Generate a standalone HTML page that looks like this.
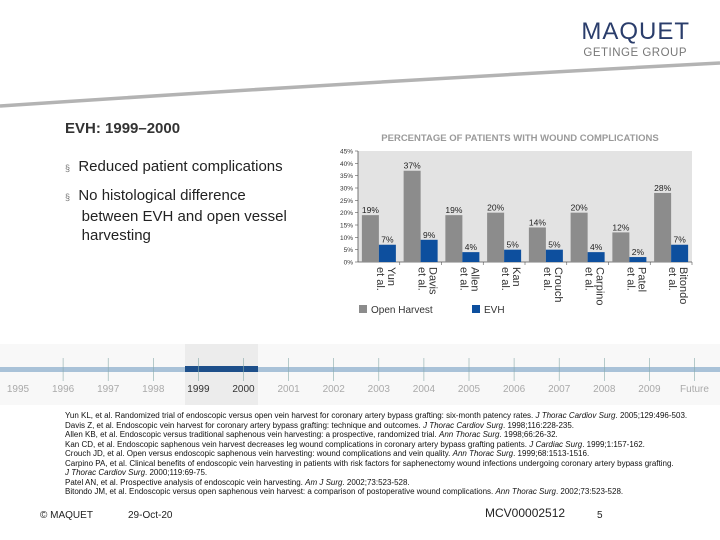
<!DOCTYPE html>
<html><head><meta charset="utf-8"><style>
body{margin:0;width:720px;height:540px;overflow:hidden;background:#fff;font-family:"Liberation Sans",Arial,sans-serif;position:relative}
.abs{position:absolute;white-space:nowrap}
.refs{position:absolute;left:65px;top:411px;font-size:8px;line-height:9.5px;color:#111;letter-spacing:0px;white-space:nowrap}
.refs i{font-style:italic}
</style></head><body>
<svg width="720" height="540" style="position:absolute;left:0;top:0">
  <path d="M0,106 Q360,82 720,63" stroke="#b3b3b3" stroke-width="3.5" fill="none"/>
  <rect x="0" y="344" width="720" height="61" fill="#f8f8f8"/>
  <rect x="185" y="344" width="73" height="61" fill="#ececec"/>
  <rect x="0" y="367" width="720" height="5" fill="#a9c2d8"/>
  <rect x="185" y="366" width="73" height="6" fill="#1d4f8a"/>
  <g id="tl"></g>
  <g id="chart"></g>
</svg>
<div class="abs" style="right:30px;top:18px;font-size:24px;color:#2a3d6b;letter-spacing:1px">MAQUET</div>
<div class="abs" style="right:33px;top:47px;font-size:11.5px;color:#777;letter-spacing:0.5px">GETINGE GROUP</div>
<div class="abs" style="left:65px;top:120px;font-size:15px;font-weight:bold;color:#333">EVH: 1999–2000</div>
<div class="abs" style="left:65px;top:157px;font-size:15px;color:#222;line-height:19px"><span style="font-size:9px;color:#777">§</span>&nbsp; Reduced patient complications</div>
<div class="abs" style="left:65px;top:186px;font-size:15px;color:#222;line-height:19px"><span style="font-size:9px;color:#777">§</span>&nbsp; No histological difference<br>&nbsp;&nbsp;&nbsp;&nbsp;between EVH and open vessel<br>&nbsp;&nbsp;&nbsp;&nbsp;harvesting</div>
<div class="refs">
Yun KL, et al. Randomized trial of endoscopic versus open vein harvest for coronary artery bypass grafting: six-month patency rates. <i>J Thorac Cardiov Surg</i>. 2005;129:496-503.<br>
Davis Z, et al. Endoscopic vein harvest for coronary artery bypass grafting: technique and outcomes. <i>J Thorac Cardiov Surg</i>. 1998;116:228-235.<br>
Allen KB, et al. Endoscopic versus traditional saphenous vein harvesting: a prospective, randomized trial. <i>Ann Thorac Surg</i>. 1998;66:26-32.<br>
Kan CD, et al. Endoscopic saphenous vein harvest decreases leg wound complications in coronary artery bypass grafting patients. <i>J Cardiac Surg</i>. 1999;1:157-162.<br>
Crouch JD, et al. Open versus endoscopic saphenous vein harvesting: wound complications and vein quality. <i>Ann Thorac Surg</i>. 1999;68:1513-1516.<br>
Carpino PA, et al. Clinical benefits of endoscopic vein harvesting in patients with risk factors for saphenectomy wound infections undergoing coronary artery bypass grafting.<br>
<i>J Thorac Cardiov Surg</i>. 2000;119:69-75.<br>
Patel AN, et al. Prospective analysis of endoscopic vein harvesting. <i>Am J Surg</i>. 2002;73:523-528.<br>
Bitondo JM, et al. Endoscopic versus open saphenous vein harvest: a comparison of postoperative wound complications. <i>Ann Thorac Surg</i>. 2002;73:523-528.
</div>
<div class="abs" style="left:40px;top:510px;font-size:10px;color:#222">© MAQUET</div>
<div class="abs" style="left:128px;top:510px;font-size:10px;color:#222">29-Oct-20</div>
<div class="abs" style="left:485px;top:506px;font-size:12px;color:#222">MCV00002512</div>
<div class="abs" style="left:597px;top:510px;font-size:10px;color:#222">5</div>
<script>
const categories=[["Yun","et al."],["Davis","et al."],["Allen","et al."],["Kan","et al."],["Crouch","et al."],["Carpino","et al."],["Patel","et al."],["Bitondo","et al."]];
const openHarvest=[19,37,19,20,14,20,12,28];
const evh=[7,9,4,5,5,4,2,7];
const yTicks=[0,5,10,15,20,25,30,35,40,45];
const years=["1995","1996","1997","1998","1999","2000","2001","2002","2003","2004","2005","2006","2007","2008","2009","Future"];
const NS="http://www.w3.org/2000/svg";
function mk(tag,attrs,parent,text){const e=document.createElementNS(NS,tag);for(const k in attrs)e.setAttribute(k,attrs[k]);if(text!==undefined)e.textContent=text;parent.appendChild(e);return e;}
const tl=document.getElementById('tl');
years.forEach((y,i)=>{
  const x=18+i*45.1;
  if(i>0){const t=mk('line',{x1:x,x2:x,y1:358,y2:381,stroke:'#8aa',"stroke-width":0.6},tl);
  
  }
  const sel=(y==="1999"||y==="2000");
  const tx=mk('text',{x:x,y:392,"text-anchor":"middle","font-size":10,fill:sel?'#333':'#aaa'},tl,y);
  
  
});
const g=document.getElementById('chart');
const L=358,R=692,T=151,B=262,yMax=45;
const yS=v=>B-(v/yMax)*(B-T);
const bw=(R-L)/categories.length;
const title=mk('text',{x:520,y:141,"text-anchor":"middle","font-size":9.5,"font-weight":"bold",fill:'#9a9a9a'},g,"PERCENTAGE OF PATIENTS WITH WOUND COMPLICATIONS");


const bg=mk('rect',{x:L,y:T,width:R-L,height:B-T,fill:'#e3e3e3'},g);


mk('line',{x1:L,x2:L,y1:T,y2:B,stroke:'#555',"stroke-width":0.8},g);
mk('line',{x1:L,x2:R,y1:B,y2:B,stroke:'#555',"stroke-width":0.8},g);
yTicks.forEach(v=>{
  const y=yS(v);
  mk('line',{x1:L-3,x2:L,y1:y,y2:y,stroke:'#555',"stroke-width":0.6},g);
  const t=mk('text',{x:L-5,y:y+2.5,"text-anchor":"end","font-size":6.5,fill:'#333'},g,v+"%");
  
  
});
categories.forEach((c,i)=>{
  const cx=L+bw*(i+0.5);
  const o=openHarvest[i],e=evh[i];
  const b1=mk('rect',{x:cx-17,y:yS(o),width:17,height:B-yS(o),fill:'#8c8c8c'},g);
  
  
  const b2=mk('rect',{x:cx,y:yS(e),width:17,height:B-yS(e),fill:'#0d4f9e'},g);
  
  
  const l1=mk('text',{x:cx-8.5,y:yS(o)-2,"text-anchor":"middle","font-size":8.5,fill:'#222'},g,o+"%");
  
  
  const l2=mk('text',{x:cx+8.5,y:yS(e)-2,"text-anchor":"middle","font-size":8.5,fill:'#222'},g,e+"%");
  
  
  mk('line',{x1:cx+bw/2,x2:cx+bw/2,y1:B,y2:B+3,stroke:'#555',"stroke-width":0.6},g);
  const ct=mk('text',{transform:`translate(${cx+9},${B+5}) rotate(90)`,"font-size":11,fill:'#333'},g);
  
  
  mk('tspan',{x:0,y:0},ct,c[0]);
  mk('tspan',{x:0,y:11},ct,c[1]);
});
const lg1=mk('rect',{x:359,y:305,width:8,height:8,fill:'#8c8c8c'},g);


const lt1=mk('text',{x:371,y:313,"font-size":10,fill:'#333'},g,"Open Harvest");


const lg2=mk('rect',{x:472,y:305,width:8,height:8,fill:'#0d4f9e'},g);


const lt2=mk('text',{x:484,y:313,"font-size":10,fill:'#333'},g,"EVH");


</script>
</body></html>
